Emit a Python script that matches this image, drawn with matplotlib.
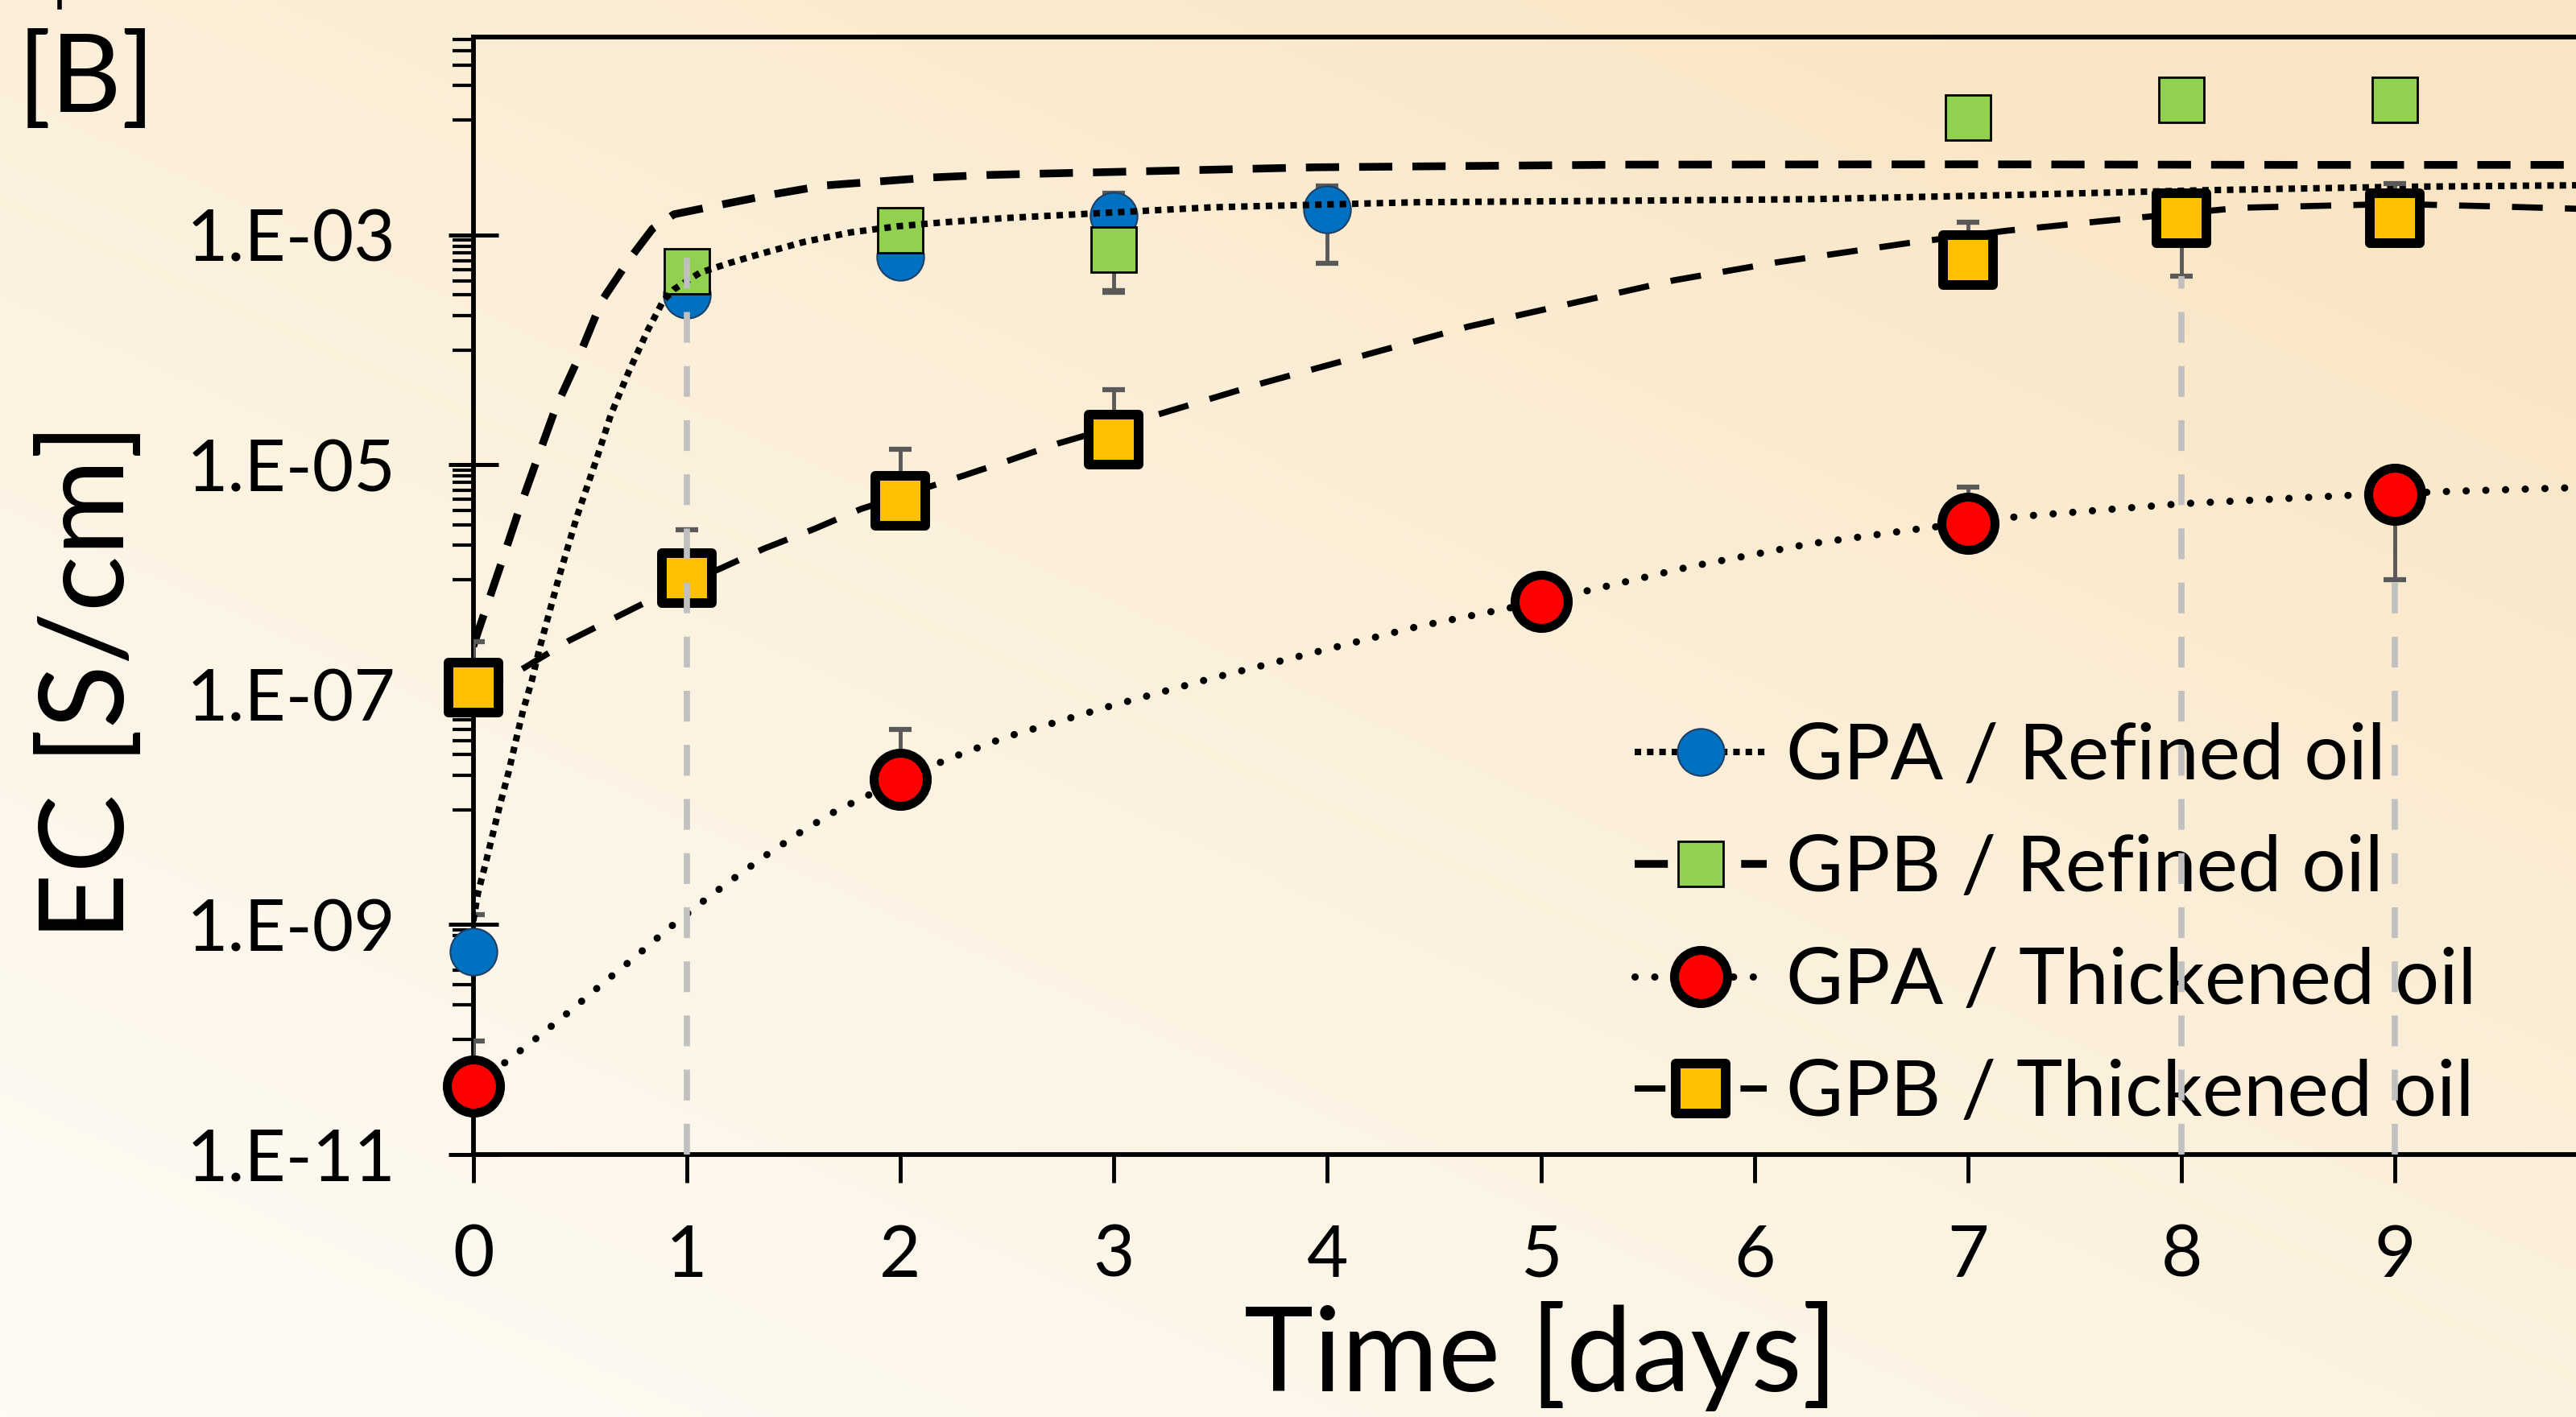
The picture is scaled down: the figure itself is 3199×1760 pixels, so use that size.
import numpy as np
import matplotlib.pyplot as plt
from matplotlib.lines import Line2D
from matplotlib.markers import MarkerStyle
from matplotlib.ticker import FixedLocator, NullFormatter

plt.rcParams['font.family'] = ['Lato', 'DejaVu Sans']

# ---------------------------------------------------------
# measured points (EC in S/cm), read off the figure
# ---------------------------------------------------------
gpa_ref_day = [0, 1, 2, 3, 4]
gpa_ref_ec = [5.8e-10, 3.0e-4, 6.5e-4, 1.46e-3, 1.66e-3]
gpa_ref_lo = [5.8e-10, 3.0e-4, 6.5e-4, 1.46e-3, 5.7e-4]
gpa_ref_hi = [1.22e-9, 3.0e-4, 6.5e-4, 2.3e-3, 2.65e-3]

gpb_ref_day = [1, 2, 3, 7, 8, 9]
gpb_ref_ec = [4.8e-4, 1.1e-3, 7.5e-4, 1.06e-2, 1.51e-2, 1.51e-2]
gpb_ref_lo = [4.8e-4, 1.1e-3, 3.2e-4, 1.06e-2, 1.51e-2, 1.51e-2]
gpb_ref_hi = [4.8e-4, 1.1e-3, 7.5e-4, 1.06e-2, 1.51e-2, 1.51e-2]

gpa_thk_day = [0, 2, 5, 7, 9]
gpa_thk_ec = [3.9e-11, 1.84e-8, 6.5e-7, 3.1e-6, 5.5e-6]
gpa_thk_lo = [3.9e-11, 1.84e-8, 6.5e-7, 3.1e-6, 1.0e-6]
gpa_thk_hi = [9.6e-11, 5.0e-8, 6.5e-7, 6.4e-6, 5.5e-6]

gpb_thk_day = [0, 1, 2, 3, 7, 8, 9]
gpb_thk_ec = [1.15e-7, 1.04e-6, 4.9e-6, 1.66e-5, 6.1e-4, 1.39e-3, 1.39e-3]
gpb_thk_lo = [1.15e-7, 1.04e-6, 4.9e-6, 1.66e-5, 6.1e-4, 4.4e-4, 1.39e-3]
gpb_thk_hi = [2.9e-7, 2.7e-6, 1.37e-5, 4.5e-5, 1.3e-3, 1.39e-3, 2.8e-3]

# ---------------------------------------------------------
# trend curves (log10 EC)
# ---------------------------------------------------------
fit_gpa_ref_day = [0, 0.023, 0.06, 0.095, 0.129, 0.166, 0.199, 0.233, 0.275, 0.309,
                   0.401, 0.486, 0.578, 0.646, 0.73, 0.819, 0.89, 0.94, 1.061, 1.2,
                   1.344, 1.546, 1.765, 1.984, 2.194, 2.489, 3.46, 4.421, 5.383, 6.27,
                   7.18, 8.094, 9.006, 10.0]
fit_gpa_ref_log = [-8.97, -8.72, -8.454, -8.188, -7.932, -7.672, -7.406, -7.141, -6.875, -6.609,
                   -5.981, -5.448, -4.948, -4.557, -4.183, -3.823, -3.572, -3.473, -3.329, -3.244,
                   -3.165, -3.062, -2.978, -2.925, -2.891, -2.853, -2.759, -2.715, -2.702, -2.688,
                   -2.653, -2.611, -2.581, -2.565]

fit_gpb_ref_day = [0, 0.023, 0.132, 0.216, 0.3, 0.385, 0.485, 0.603, 0.737, 0.839,
                   0.94, 1.14, 1.393, 1.646, 1.899, 2.152, 2.404, 2.594, 3.941, 5.383,
                   7.0, 8.5, 10.0]
fit_gpb_ref_log = [-6.58, -6.45, -5.855, -5.385, -4.948, -4.51, -4.103, -3.57, -3.197, -2.947,
                   -2.82, -2.744, -2.65, -2.569, -2.534, -2.499, -2.478, -2.469, -2.411, -2.388,
                   -2.385, -2.39, -2.39]

fit_gpa_thk_day = [0, 0.157, 0.309, 0.46, 0.608, 0.758, 0.906, 1.058, 1.212, 1.371,
                   1.532, 1.7, 2.006, 2.228, 2.497, 2.979, 3.46, 3.941, 4.421, 5.011,
                   5.696, 6.25, 6.748, 7.227, 8.004, 8.781, 9.26, 10.0]
fit_gpa_thk_log = [-10.41, -10.19, -9.971, -9.743, -9.511, -9.283, -9.048, -8.824, -8.61, -8.398,
                   -8.198, -8.01, -7.735, -7.557, -7.368, -7.102, -6.857, -6.632, -6.408, -6.186,
                   -5.887, -5.69, -5.563, -5.452, -5.338, -5.266, -5.231, -5.19]

fit_gpb_thk_day = [0, 0.174, 0.452, 0.671, 0.856, 1.176, 1.361, 1.597, 1.815, 2.304,
                   2.506, 2.739, 3.219, 3.7, 4.181, 4.662, 5.143, 5.624, 6.105, 6.725,
                   7.18, 7.64, 8.277, 9.006, 9.464, 10.0]
fit_gpb_thk_log = [-6.94, -6.84, -6.527, -6.324, -6.152, -5.887, -5.73, -5.558, -5.385, -5.089,
                   -4.964, -4.814, -4.555, -4.287, -4.042, -3.796, -3.595, -3.394, -3.238, -3.069,
                   -2.963, -2.877, -2.763, -2.73, -2.751, -2.78]

# grey drop lines
drop_day = [1, 8, 9]
drop_top = [7.0e-4, 4.4e-4, 1.0e-6]

labels = ["GPA / Refined oil", "GPB / Refined oil", "GPA / Thickened oil", "GPB / Thickened oil"]
day_ticks = list(range(0, 10))
ec_major = [1e-11, 1e-9, 1e-7, 1e-5, 1e-3]
ec_major_labels = ["1.E-11", "1.E-09", "1.E-07", "1.E-05", "1.E-03"]

# ---------------------------------------------------------
W, H = 3199, 1760
fig = plt.figure(figsize=(W / 100, H / 100), dpi=100)

# warm background gradient
xx, yy = np.meshgrid(np.linspace(0, 1, 400), np.linspace(0, 1, 220))
t = np.clip(0.5 * xx + 0.6 * yy, 0, 1) ** 1.2
c0 = np.array([254, 251, 244]) / 255
c1 = np.array([249, 229, 195]) / 255
bg = fig.add_axes([0, 0, 1, 1])
bg.imshow(c0 + (c1 - c0) * t[..., None], origin='lower', extent=[0, 1, 0, 1], aspect='auto')
bg.set_axis_off()

ax = fig.add_axes([0.1837, 0.1854, 0.829, 0.7886])
ax.set_facecolor('none')
ax.set_yscale('log')
ax.set_xlim(0, 10)
ax.set_ylim(1e-11, 5.3e-2)

err_col = '#595959'

def errs(vals, lo, hi):
    v = np.array(vals)
    return [v - np.array(lo), np.array(hi) - v]

# refined-oil points (below the trend lines)
ax.errorbar(gpa_ref_day, gpa_ref_ec, yerr=errs(gpa_ref_ec, gpa_ref_lo, gpa_ref_hi), fmt='none',
            ecolor=err_col, elinewidth=3.5, capsize=10, capthick=4.5, zorder=2)
ax.plot(gpa_ref_day, gpa_ref_ec, ls='none', marker='o', ms=42, mfc='#0070C0', mec='#1F3F66',
        mew=1.5, zorder=3, clip_on=False)
ax.errorbar(gpb_ref_day, gpb_ref_ec, yerr=errs(gpb_ref_ec, gpb_ref_lo, gpb_ref_hi), fmt='none',
            ecolor=err_col, elinewidth=3.5, capsize=10, capthick=6, zorder=2)
ax.plot(gpb_ref_day, gpb_ref_ec, ls='none', marker='s', ms=41, mfc='#92D050', mec='black',
        mew=2, zorder=3, clip_on=False)

# trend curves
st_gpa_ref = dict(color='black', lw=5.8, ls=(0, (1, 0.9)), dash_capstyle='butt')
st_gpb_ref = dict(color='black', lw=6.9, ls=(0, (4.3, 2.6)), dash_capstyle='butt')
st_gpa_thk = dict(color='black', lw=6.5, ls=(0, (0.01, 2.7)), dash_capstyle='round')
st_gpb_thk = dict(color='black', lw=5.5, ls=(0, (5, 3.6)), dash_capstyle='butt')
ax.plot(fit_gpa_ref_day, 10 ** np.array(fit_gpa_ref_log), zorder=4, **st_gpa_ref)
ax.plot(fit_gpb_ref_day, 10 ** np.array(fit_gpb_ref_log), zorder=4, **st_gpb_ref)
ax.plot(fit_gpa_thk_day, 10 ** np.array(fit_gpa_thk_log), zorder=4, **st_gpa_thk)
ax.plot(fit_gpb_thk_day, 10 ** np.array(fit_gpb_thk_log), zorder=4, **st_gpb_thk)

# thickened-oil points (on top)
sq_round = MarkerStyle('s', joinstyle='round')
ax.errorbar(gpa_thk_day, gpa_thk_ec, yerr=errs(gpa_thk_ec, gpa_thk_lo, gpa_thk_hi), fmt='none',
            ecolor=err_col, elinewidth=3.5, capsize=10, capthick=4.5, zorder=5)
ax.plot(gpa_thk_day, gpa_thk_ec, ls='none', marker='o', ms=47.5, mfc='#FF0000', mec='black',
        mew=8, zorder=6, clip_on=False)
ax.errorbar(gpb_thk_day, gpb_thk_ec, yerr=errs(gpb_thk_ec, gpb_thk_lo, gpb_thk_hi), fmt='none',
            ecolor=err_col, elinewidth=3.5, capsize=10, capthick=4.5, zorder=5)
ax.plot(gpb_thk_day, gpb_thk_ec, ls='none', marker=sq_round, ms=44, mfc='#FFC000', mec='black',
        mew=8.6, zorder=6, clip_on=False)

ax.vlines(drop_day, 1e-11, drop_top, colors='#C0C0C0', lw=5.5, linestyles=(0, (5, 3.8)), zorder=8)

# axes styling
for side in ['left', 'bottom', 'top']:
    ax.spines[side].set_linewidth(4.2)
ax.spines['right'].set_visible(False)

ax.set_xticks(day_ticks)
ax.set_xticklabels([str(d) for d in day_ticks])
ax.yaxis.set_major_locator(FixedLocator(ec_major))
ax.set_yticklabels(ec_major_labels)
minor = [k * 10.0 ** e for e in [-10, -8, -6, -4, -2] for k in range(1, 10)]
ax.yaxis.set_minor_locator(FixedLocator(minor))
ax.yaxis.set_minor_formatter(NullFormatter())

ax.tick_params(axis='y', which='major', direction='inout', length=45, width=3.6, pad=47,
               labelsize=64)
ax.tick_params(axis='y', which='minor', direction='out', length=19, width=3)
ax.tick_params(axis='x', which='major', direction='out', length=25, width=3.5, pad=37,
               labelsize=64)

ax.set_ylabel('EC [S/cm]', fontsize=105)
ax.yaxis.set_label_coords(-0.154, 0.423)
ax.set_xlabel('Time [days]', fontsize=105, labelpad=10)

handles = [
    Line2D([], [], marker='o', ms=42, mfc='#0070C0', mec='#1F3F66', mew=1.5, **st_gpa_ref),
    Line2D([], [], marker='s', ms=41, mfc='#92D050', mec='black', mew=2, **st_gpb_ref),
    Line2D([], [], marker='o', ms=47.5, mfc='#FF0000', mec='black', mew=8, **st_gpa_thk),
    Line2D([], [], marker=sq_round, ms=44, mfc='#FFC000', mec='black', mew=8.6, **st_gpb_thk),
]
ax.legend(handles, labels, loc='upper left', bbox_to_anchor=(0.544, 0.387), frameon=False,
          fontsize=70, handlelength=1.68, handletextpad=0.25, labelspacing=0.53,
          borderpad=0, borderaxespad=0, numpoints=1)

fig.text(22 / W, 1 - 38 / H, '[B]', fontsize=98, ha='left', va='top')
fig.add_artist(Line2D([74 / W, 74 / W], [1, 1 - 9 / H], color='black', lw=4))

fig.savefig('out.png', dpi=100)
